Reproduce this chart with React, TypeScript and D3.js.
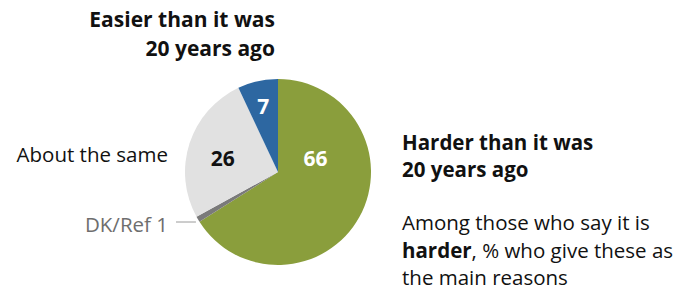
import React from "react";
import * as d3 from "d3";

const categories = ["Harder than it was 20 years ago", "DK/Ref", "About the same", "Easier than it was 20 years ago"];
const values = [66, 1, 26, 7];
const colors = ["#8a9e3c", "#7a7a7a", "#e1e1e1", "#2d67a1"];
const labelColors = ["#ffffff", "none", "#111111", "#ffffff"];

const W = 692, H = 291;
const cx = 278, cy = 172, R = 93;

export default function App() {
  const pie = d3.pie<number>().sort(null).startAngle(0).endAngle(2 * Math.PI);
  const arcs = pie(values);
  const arc = d3.arc<d3.PieArcDatum<number>>().innerRadius(0).outerRadius(R);
  const labelPos = (d: d3.PieArcDatum<number>, i: number): [number, number] => {
    if (i === 0) {
      const a = (70 * Math.PI) / 180;
      return [Math.sin(a) * 40, -Math.cos(a) * 40];
    }
    const r = i === 3 ? 68 : 58;
    const c = d3.arc<d3.PieArcDatum<number>>().innerRadius(r).outerRadius(r).centroid(d);
    return [c[0], c[1] + (i === 2 ? 4 : 0)];
  };
  const dkArc = arcs[1];
  const dkMid = (dkArc.startAngle + dkArc.endAngle) / 2;
  const dkEdge: [number, number] = [cx + Math.sin(dkMid) * R, cy - Math.cos(dkMid) * R];
  const font = "'Open Sans', 'Roboto', sans-serif";
  return (
    <svg width={W} height={H} style={{ position: "absolute", left: 0, top: 0 }} fontFamily={font}>
      <rect width={W} height={H} fill="#ffffff" />
      <g transform={`translate(${cx},${cy})`}>
        {arcs.map((d, i) => (
          <path key={i} d={arc(d) || ""} fill={colors[i]} />
        ))}
        {arcs.map((d, i) =>
          labelColors[i] === "none" ? null : (
            <text
              key={"l" + i}
              x={labelPos(d, i)[0]}
              y={labelPos(d, i)[1]}
              textAnchor="middle"
              dominantBaseline="central"
              fontSize={21}
              fontWeight={700}
              fill={labelColors[i]}
            >
              {values[i]}
            </text>
          )
        )}
      </g>
      <text x={275} y={27} textAnchor="end" fontSize={21} fontWeight={700} fill="#111">
        <tspan x={275}>Easier than it was</tspan>
        <tspan x={275} dy={29}>20 years ago</tspan>
      </text>
      <text x={402} y={150} fontSize={20.5} fontWeight={700} fill="#111">
        <tspan x={402}>Harder than it was</tspan>
        <tspan x={402} dy={27}>20 years ago</tspan>
      </text>
      <text x={402} y={230} fontSize={20.5} fill="#111">
        <tspan x={402}>Among those who say it is</tspan>
        <tspan x={402} dy={28}>
          <tspan fontWeight={700}>harder</tspan>, % who give these as
        </tspan>
        <tspan x={402} dy={27}>the main reasons</tspan>
      </text>
      <text x={168} y={162} textAnchor="end" fontSize={20.5} fill="#111">About the same</text>
      <text x={168} y={232} textAnchor="end" fontSize={20.5} fill="#6e6e6e">DK/Ref 1</text>
      <line x1={176} x2={dkEdge[0] - 2} y1={222} y2={222} stroke="#9a9a9a" strokeWidth={1} />
    </svg>
  );
}
